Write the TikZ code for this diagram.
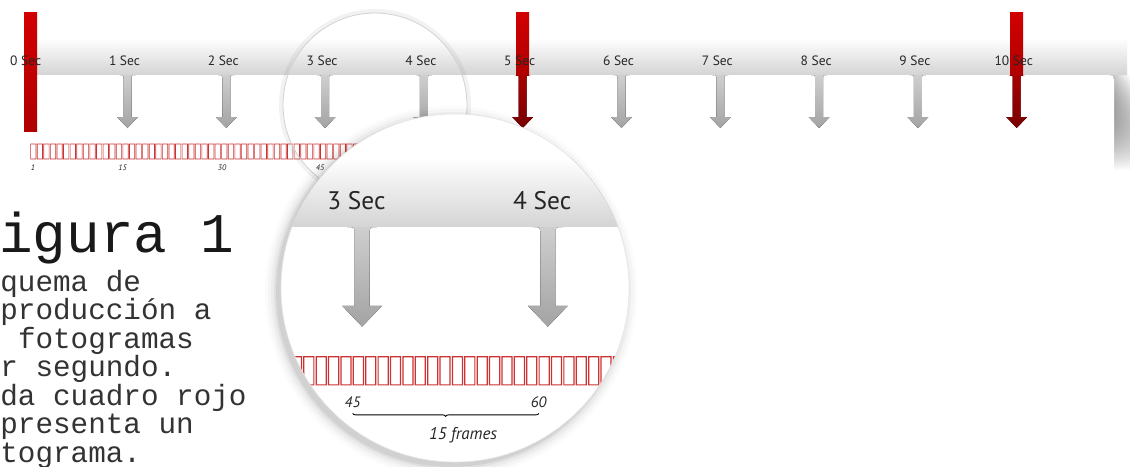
\documentclass[tikz,border=0pt]{standalone}
\usepackage{fontspec}
\setmonofont{Liberation Mono}
\newfontfamily\hand{PT Sans}
\usetikzlibrary{fadings,decorations.pathreplacing}
\definecolor{framered}{RGB}{205,50,50}
\definecolor{barred}{RGB}{210,0,0}
\definecolor{bardark}{RGB}{175,0,0}
\definecolor{arrdarktop}{RGB}{170,0,0}
\definecolor{arrdarkbot}{RGB}{120,0,0}
\definecolor{bandgray}{RGB}{212,212,212}
\tikzset{
  seclabel/.style={font=\hand\fontsize{13.5}{14}\selectfont, text=black!85, inner sep=0pt},
  framebox/.style={fill=framered, even odd rule},
  fnum/.style={font=\hand\itshape\fontsize{8}{9}\selectfont, inner sep=0pt, text=black!85},
  grayarrow/.style={top color=gray!38, bottom color=gray!72},
  redarrow/.style={top color=arrdarktop, bottom color=arrdarkbot},
  redbar/.style={top color=barred, bottom color=bardark},
  titletext/.style={font=\ttfamily\fontsize{56}{56}\selectfont, anchor=base west, inner sep=0pt,
    text height=34pt, text depth=8pt, text=black!90},
  bodytext/.style={font=\ttfamily\fontsize{29.3}{29}\selectfont, anchor=base west, inner sep=0pt,
    text height=18pt, text depth=3pt, text=black!80},
}
\newcommand{\arrowshape}[1]{(#1-8,75) -- (#1+8,75) .. controls (#1+4,75) .. (#1+4,79) -- (#1+4,117) -- (#1+10.5,117) -- (#1,128) -- (#1-10.5,117) -- (#1-4,117) -- (#1-4,79) .. controls (#1-4,75) .. (#1-8,75) -- cycle}
% #1 name prefix, #2 list of second labels, #3 list of frame numbers n/x
\newcommand{\drawscene}[3]{%
  \fill[top color=white, bottom color=bandgray] (30,38) rectangle (1127,75);
  \fill[left color=gray!45, right color=white, path fading=south] (1113,76) rectangle (1130,170);
  \fill[white, rounded corners=5pt] (30,75) rectangle (1114,300);
  \fill[redbar] (24,12) rectangle (37,131);
  \foreach \k in {1,2,3,4,6,7,8,9} {
    \pgfmathsetmacro\xk{28.7+98.8*\k}
    \fill[grayarrow] \arrowshape{\xk};
  }
  \foreach \k in {5,10} {
    \pgfmathsetmacro\xk{28.7+98.8*\k}
    \fill[redbar] (\xk-6.5,12) rectangle (\xk+6.5,75);
    \fill[redarrow] \arrowshape{\xk};
  }
  \foreach \k in {#2} {
    \pgfmathsetmacro\xk{28.7+98.8*\k-3}
    \node[seclabel] (#1-sec\k) at (\xk,61) {\k\ Sec};
  }
  \foreach \i in {0,...,65} {
    \pgfmathsetmacro\fx{30.3+\i*6.587}
    \fill[framebox] (\fx,143.7) rectangle ++(6,15.6) (\fx+0.65,144.35) rectangle ++(4.7,14.3);
  }
  \foreach \n/\xx in {#3} \node[fnum] (#1-f\n) at (\xx,168) {\n};
}
\begin{document}
\begin{tikzpicture}[x=1pt,y=-1pt]
\useasboundingbox (0,0) rectangle (1131,466);
\clip (0,0) rectangle (1131,466);
\fill[white] (0,0) rectangle (1131,466);
\drawscene{s}{0,...,10}{1/33,15/122.5,30/222,45/320}
% small lens outline
\draw[black, opacity=0.05, line width=4pt] (375,105) circle (94pt);
\draw[gray!35, line width=0.8pt] (375,105) circle (92pt);
% big lens shadow
\foreach \r/\op in {186/0.015,183/0.025,180/0.035,177/0.05,175/0.06}
  \fill[black, opacity=\op] (451,292) circle (\r pt);
\fill[white] (455,288) circle (174pt);
\begin{scope}
  \clip (455,288) circle (174pt);
  \begin{scope}[shift={(-249.1,86)}, scale=1.88, every node/.append style={transform shape}]
    \drawscene{m}{3,4}{45/320,60/419}
    \draw[line width=0.9pt, decorate, decoration={brace, mirror, amplitude=3pt}]
      ([yshift=-3pt]m-f45.south) -- ([yshift=-3pt]m-f60.south);
    \node[fnum, font=\hand\itshape\fontsize{9}{10}\selectfont] (frames) at (378.8,185.6) {15 frames};
  \end{scope}
\end{scope}
\draw[gray!20, line width=0.6pt] (455,288) circle (174pt);
% caption (as printed: its left part lies beyond the picture's edge)
\node[titletext] (title) at (-0.9,252) {igura 1};
\node[bodytext] (c1) at (0.2,291) {quema de};
\node[bodytext] (c2) at (0.2,319.5) {producción a};
\node[bodytext] (c3) at (17.8,348) {fotogramas};
\node[bodytext] (c4) at (0.2,376.5) {r segundo.};
\node[bodytext] (c5) at (0.2,405) {da cuadro rojo};
\node[bodytext] (c6) at (0.2,433.5) {presenta un};
\node[bodytext] (c7) at (0.2,462) {tograma.};
\end{tikzpicture}
\end{document}
